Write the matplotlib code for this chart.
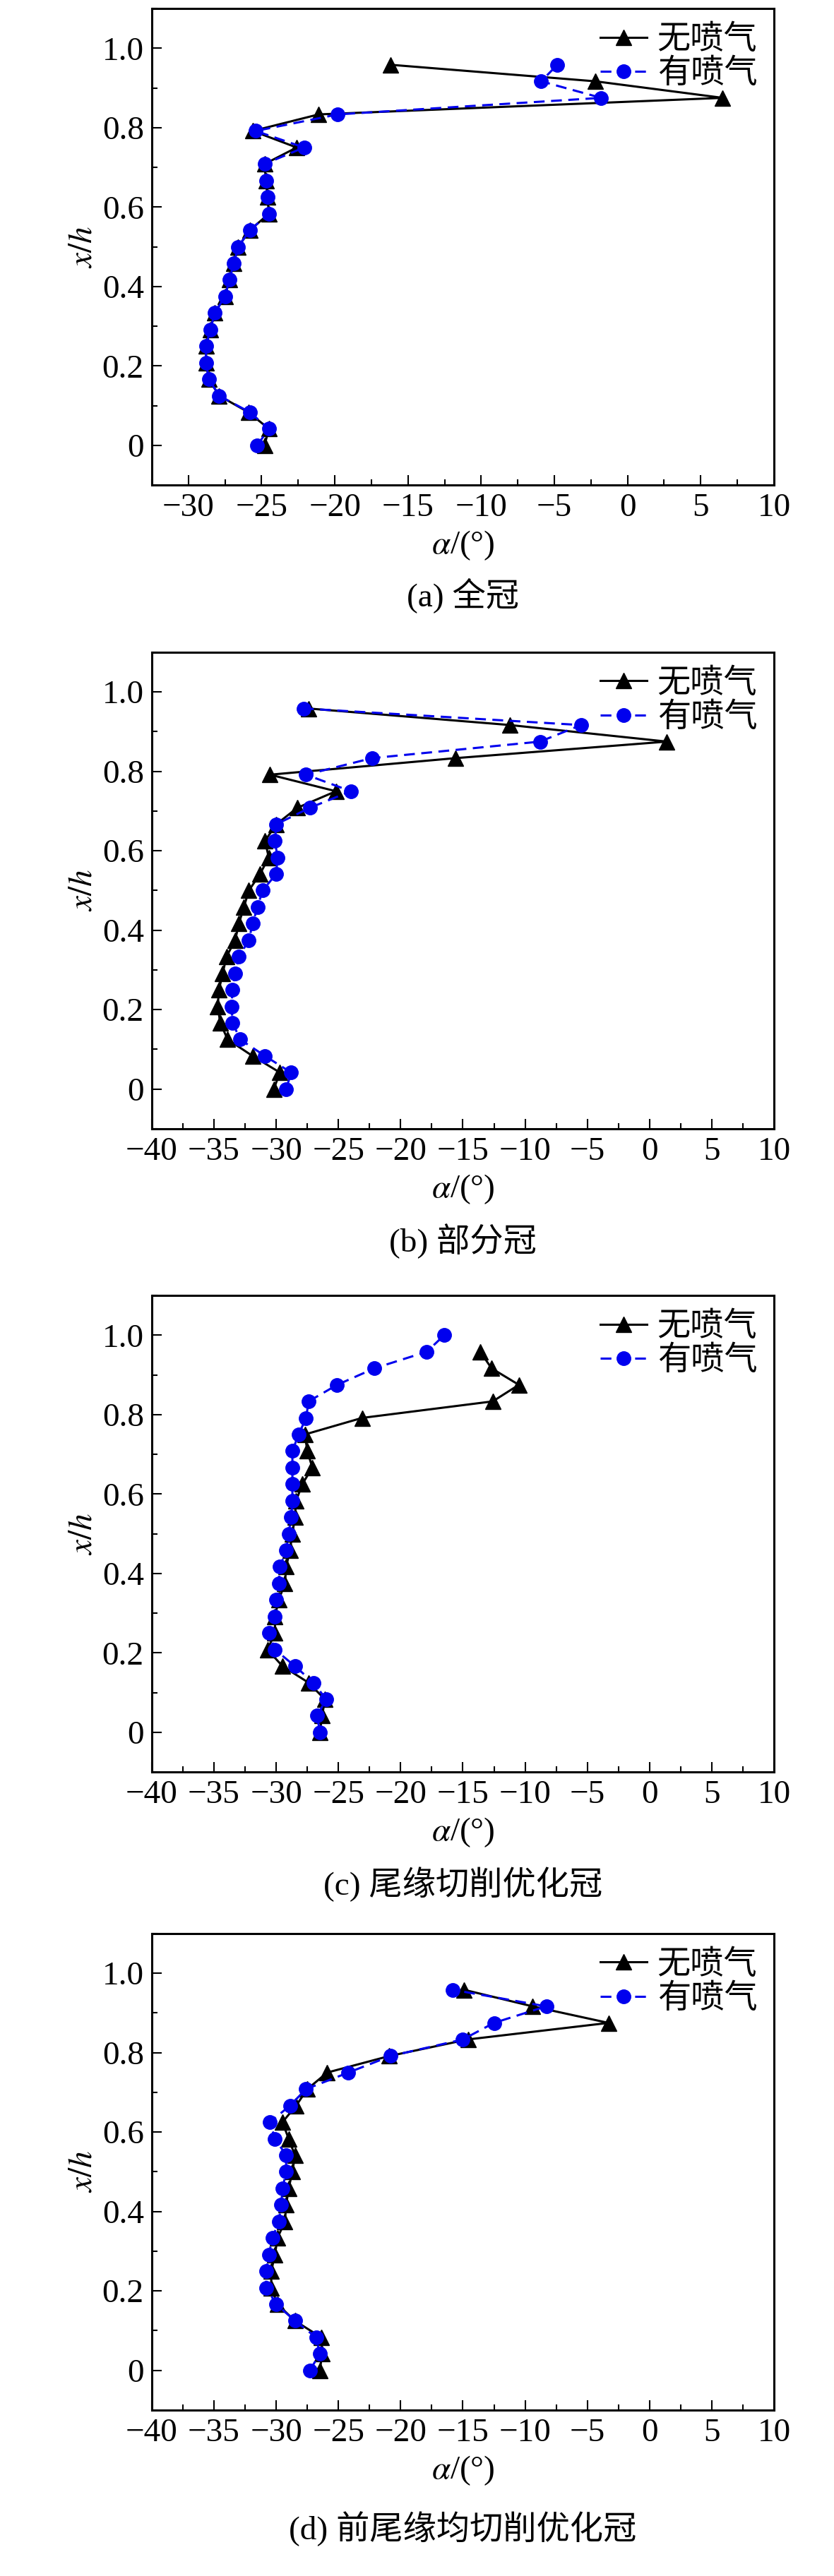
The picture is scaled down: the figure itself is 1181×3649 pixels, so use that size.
import matplotlib
matplotlib.use("Agg")
import matplotlib.pyplot as plt
from matplotlib.ticker import MultipleLocator, FuncFormatter

plt.rcParams['font.family'] = ['Liberation Serif', 'Noto Sans CJK SC']
plt.rcParams['mathtext.fontset'] = 'stix'

y24 = [i / 24 for i in range(24)]
y25 = [i / 24 for i in range(25)]

a_no = [-24.8, -24.5, -25.9, -27.9, -28.6, -28.8, -28.8, -28.5, -28.2, -27.5, -27.2, -26.9,
        -26.6, -25.8, -24.5, -24.6, -24.7, -24.8, -22.6, -25.6, -21.1, 6.5, -2.2, -16.2]
a_jet = [-25.3, -24.5, -25.8, -27.9, -28.6, -28.8, -28.8, -28.5, -28.2, -27.5, -27.2, -26.9,
         -26.6, -25.8, -24.5, -24.6, -24.7, -24.8, -22.1, -25.4, -19.8, -1.8, -5.9, -4.8]
b_no = [-30.2, -29.7, -31.9, -33.9, -34.5, -34.7, -34.6, -34.3, -34.0, -33.3, -33.0, -32.6,
        -32.2, -31.3, -30.6, -30.9, -30.0, -28.3, -25.2, -30.5, -15.6, 1.4, -11.2, -27.4]
b_jet = [-29.2, -28.8, -30.9, -32.9, -33.5, -33.6, -33.5, -33.3, -33.0, -32.2, -31.9, -31.5,
         -31.1, -30.0, -29.9, -30.1, -30.0, -27.3, -24.0, -27.6, -22.3, -8.8, -5.5, -27.8]
c_no = [-26.5, -26.3, -26.1, -27.4, -29.5, -30.7, -30.1, -30.1, -29.8, -29.3, -29.2, -28.9,
        -28.7, -28.5, -28.4, -27.9, -27.1, -27.5, -27.7, -23.1, -12.6, -10.5, -12.7, -13.6]
c_jet = [-26.5, -26.7, -26.0, -27.0, -28.5, -30.1, -30.6, -30.1, -30.0, -29.8, -29.7, -29.2,
         -29.0, -28.8, -28.7, -28.7, -28.7, -28.7, -28.2, -27.6, -27.4, -25.1, -22.1, -17.9, -16.5]
d_no = [-26.5, -26.3, -26.4, -28.5, -29.9, -30.4, -30.4, -30.1, -29.9, -29.3, -29.2, -29.0,
        -28.7, -28.5, -29.0, -29.5, -28.4, -27.5, -25.9, -20.9, -14.6, -3.3, -9.4, -14.9]
d_jet = [-27.3, -26.5, -26.8, -28.5, -30.0, -30.8, -30.8, -30.6, -30.3, -29.8, -29.6, -29.5,
         -29.2, -29.2, -30.1, -30.5, -28.9, -27.6, -24.2, -20.8, -15.0, -12.5, -8.3, -15.8]

panels = [
    ("(a) 全冠", a_no, y24, a_jet, y24, (-32.5, 10)),
    ("(b) 部分冠", b_no, y24, b_jet, y24, (-40, 10)),
    ("(c) 尾缘切削优化冠", c_no, y24, c_jet, y25, (-40, 10)),
    ("(d) 前尾缘均切削优化冠", d_no, y24, d_jet, y24, (-40, 10)),
]
legend_labels = ["无喷气", "有喷气"]

fig = plt.figure(figsize=(11.81, 36.49), dpi=100)
bottoms = [0.8117, 0.5618, 0.3121, 0.0644]
caption_y = [1 - 844 / 3649, 1 - 1758 / 3649, 1 - 2669 / 3649, 1 - 3582 / 3649]
fs = 34

def yfmt(v, p):
    return "0" if abs(v) < 1e-9 else f"{v:.1f}"

def xfmt(v, p):
    return f"{int(round(v))}".replace("-", "\u2212")

for (cap, xn, yn, xj, yj, xl), b, cy in zip(panels, bottoms, caption_y):
    ax = fig.add_axes([0.182, b, 0.746, 0.185])
    ax.plot(xn, yn, '-', color='black', lw=2.2, marker='^', ms=16, label=legend_labels[0])
    ax.plot(xj, yj, '--', color='#0000ee', lw=2.2, marker='o', ms=14, dashes=(5, 3),
            label=legend_labels[1])
    ax.set_xlim(*xl)
    ax.set_ylim(-0.1, 1.1)
    ax.xaxis.set_major_locator(MultipleLocator(5))
    ax.xaxis.set_minor_locator(MultipleLocator(2.5))
    ax.yaxis.set_major_locator(MultipleLocator(0.2))
    ax.yaxis.set_minor_locator(MultipleLocator(0.1))
    ax.yaxis.set_major_formatter(FuncFormatter(yfmt))
    ax.xaxis.set_major_formatter(FuncFormatter(xfmt))
    ax.tick_params(which='both', direction='in', labelsize=fs, top=False, right=False)
    ax.tick_params(which='major', length=10, width=1.5, pad=8)
    ax.tick_params(which='minor', length=6, width=1.5)
    for s in ax.spines.values():
        s.set_linewidth(2.2)
    ax.set_xlabel(r"$\alpha$/(°)", fontsize=fs, labelpad=6)
    ax.set_ylabel(r"$x/h$", fontsize=fs, labelpad=4)
    ax.legend(loc='upper right', frameon=False, fontsize=fs, handlelength=1.4,
              handletextpad=0.3, borderaxespad=0.1, labelspacing=0.1)
    fig.text(0.555, cy, cap, ha='center', va='center', fontsize=fs)

fig.savefig("out.png", dpi=100)
